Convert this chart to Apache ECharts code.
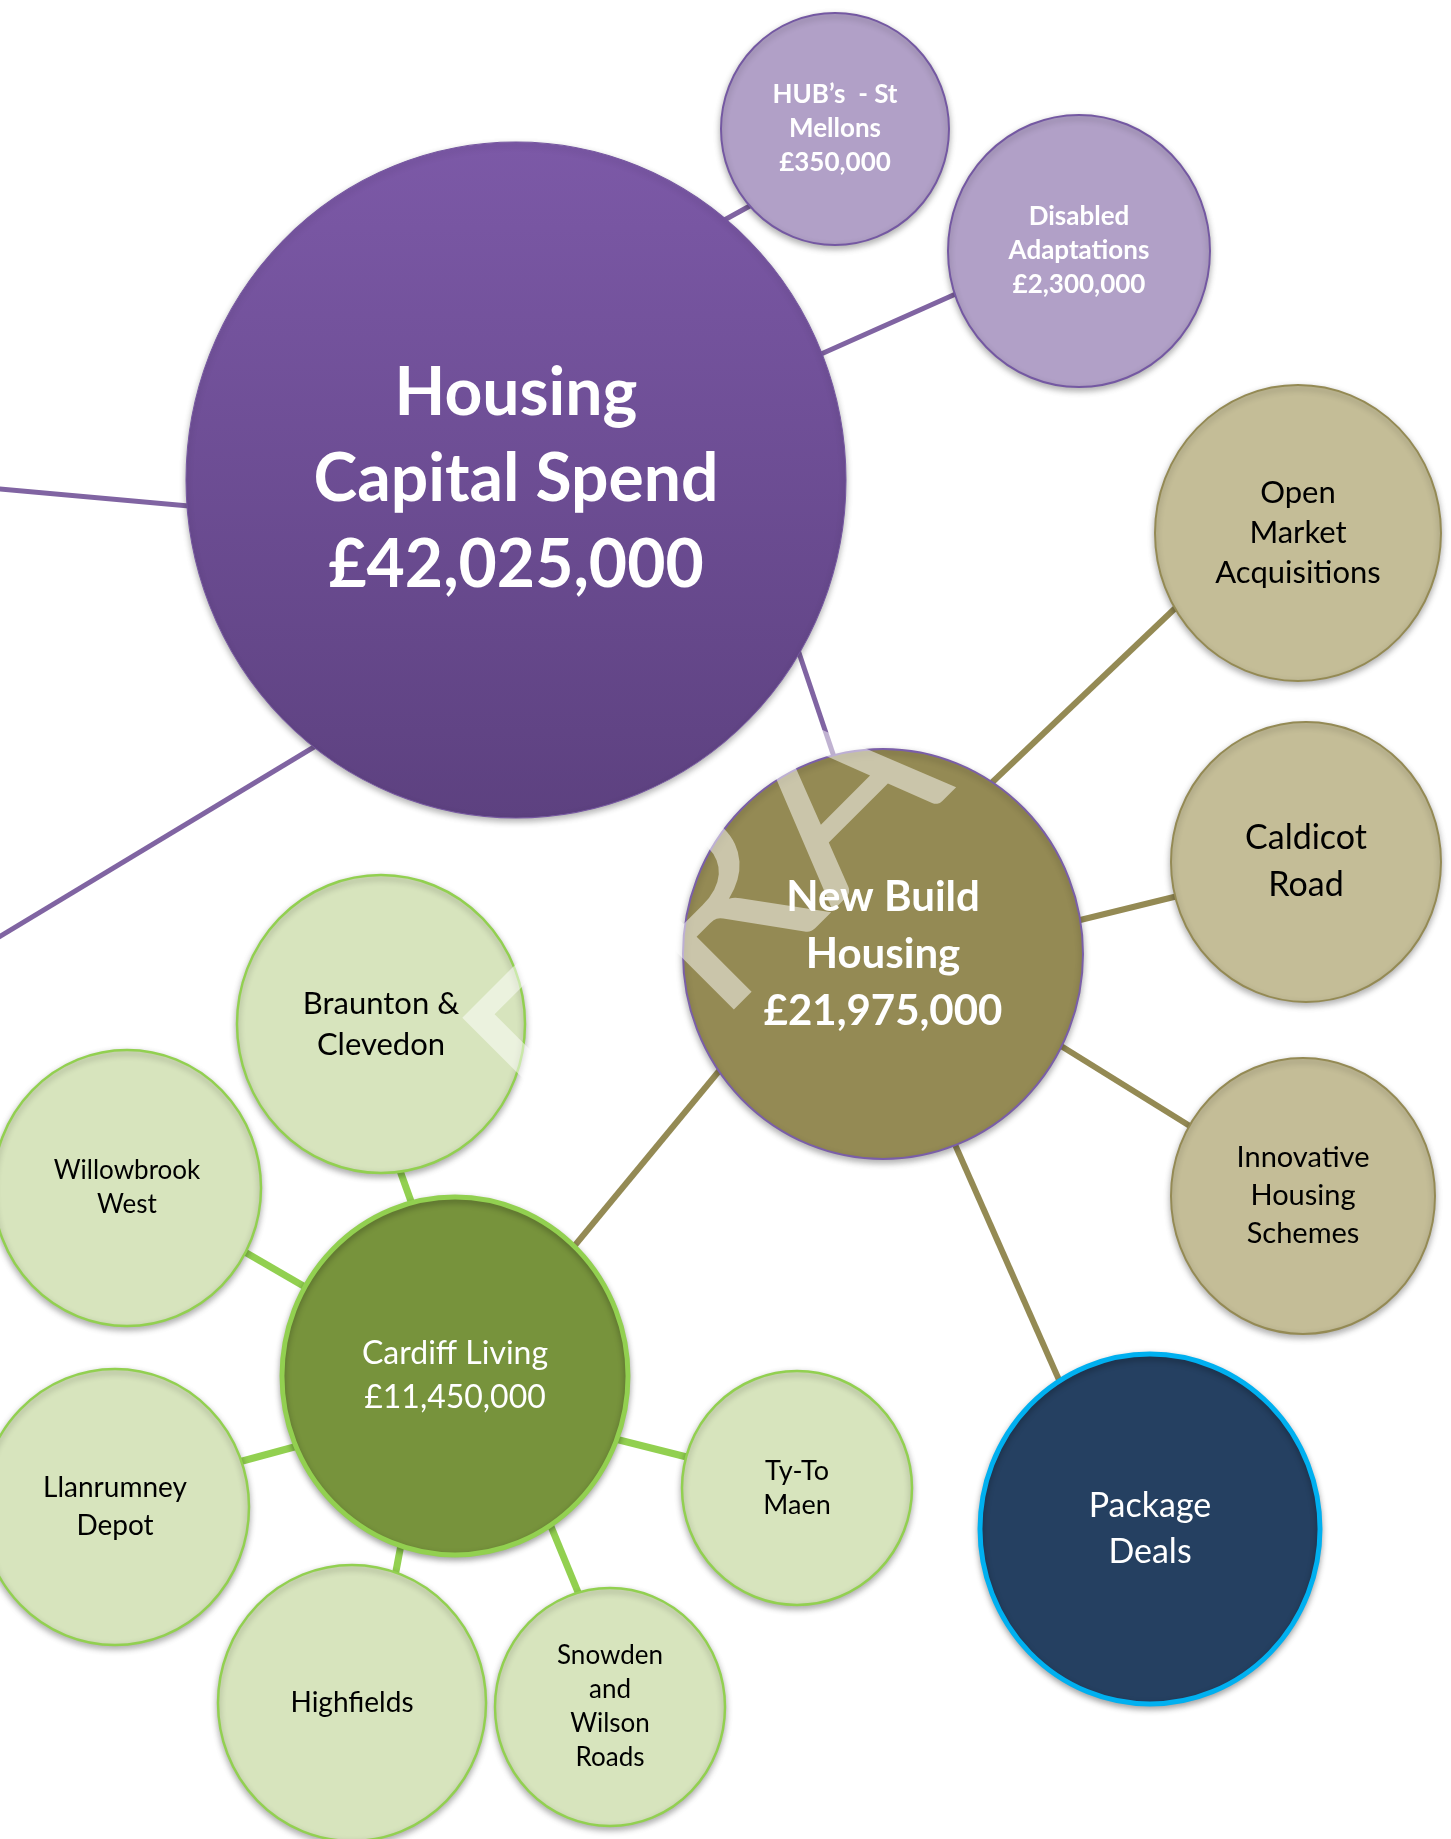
<!DOCTYPE html>
<html>
<head>
<meta charset="utf-8">
<title>Housing Capital Spend</title>
<script src="https://cdn.jsdelivr.net/npm/echarts@6/dist/echarts.min.js"></script>
<style>
  html, body { margin: 0; padding: 0; background: #fff; }
  #main { width: 1451px; height: 1839px; }
</style>
</head>
<body>
<div id="main"></div>
<script>
/*
 * Housing capital spend - bubble diagram
 */

// ---- data ----
var nodeNames = [
    'Housing Capital Spend', 'HUB’s  - St Mellons', 'Disabled Adaptations',
    'New Build Housing', 'Open Market Acquisitions', 'Caldicot Road',
    'Innovative Housing Schemes', 'Package Deals', 'Cardiff Living',
    'Braunton & Clevedon', 'Willowbrook West', 'Llanrumney Depot',
    'Highfields', 'Snowden and Wilson Roads', 'Ty-To Maen'
];
var nodeAmounts = [
    42025000, 350000, 2300000,
    21975000, null, null,
    null, null, 11450000,
    null, null, null,
    null, null, null
];
// how each name is broken over lines inside its bubble
var nodeLines = [
    ['Housing', 'Capital Spend'], ['HUB’s  - St', 'Mellons'], ['Disabled', 'Adaptations'],
    ['New Build', 'Housing'], ['Open', 'Market', 'Acquisitions'], ['Caldicot', 'Road'],
    ['Innovative', 'Housing', 'Schemes'], ['Package', 'Deals'], ['Cardiff Living'],
    ['Braunton &', 'Clevedon'], ['Willowbrook', 'West'], ['Llanrumney', 'Depot'],
    ['Highfields'], ['Snowden', 'and', 'Wilson', 'Roads'], ['Ty-To', 'Maen']
];
// parent -> child ('off page' = branch leaving the picture)
var links = [
    ['Housing Capital Spend', 'off page 1'],
    ['Housing Capital Spend', 'off page 2'],
    ['Housing Capital Spend', 'HUB’s  - St Mellons'],
    ['Housing Capital Spend', 'Disabled Adaptations'],
    ['Housing Capital Spend', 'New Build Housing'],
    ['New Build Housing', 'Open Market Acquisitions'],
    ['New Build Housing', 'Caldicot Road'],
    ['New Build Housing', 'Innovative Housing Schemes'],
    ['New Build Housing', 'Package Deals'],
    ['New Build Housing', 'Cardiff Living'],
    ['Cardiff Living', 'Braunton & Clevedon'],
    ['Cardiff Living', 'Willowbrook West'],
    ['Cardiff Living', 'Llanrumney Depot'],
    ['Cardiff Living', 'Highfields'],
    ['Cardiff Living', 'Snowden and Wilson Roads'],
    ['Cardiff Living', 'Ty-To Maen']
];

// ---- layout (page px, 1451 x 1839) ----
// x, y = centre, rx/ry = radii, g = style group, fs/lh = label font size / line height
var nodeLayout = {
    'Housing Capital Spend':      { x: 516,  y: 480,  rx: 330, ry: 338, g: 'root',   fs: 66, lh: 86 },
    'HUB’s  - St Mellons':        { x: 835,  y: 129,  rx: 114, ry: 116, g: 'lilac',  fs: 26, lh: 34 },
    'Disabled Adaptations':       { x: 1079, y: 251,  rx: 131, ry: 136, g: 'lilac',  fs: 26, lh: 34 },
    'New Build Housing':          { x: 883,  y: 954,  rx: 200, ry: 205, g: 'olive',  fs: 42, lh: 57 },
    'Open Market Acquisitions':   { x: 1298, y: 533,  rx: 143, ry: 148, g: 'tan',    fs: 31, lh: 40 },
    'Caldicot Road':              { x: 1306, y: 862,  rx: 135, ry: 140, g: 'tan',    fs: 34, lh: 47 },
    'Innovative Housing Schemes': { x: 1303, y: 1196, rx: 132, ry: 138, g: 'tan',    fs: 29, lh: 38 },
    'Package Deals':              { x: 1150, y: 1529, rx: 170, ry: 175, g: 'navy',   fs: 34, lh: 46 },
    'Cardiff Living':             { x: 455,  y: 1376, rx: 173, ry: 179, g: 'green',  fs: 32, lh: 44 },
    'Braunton & Clevedon':        { x: 381,  y: 1024, rx: 144, ry: 149, g: 'leaf',   fs: 31, lh: 41 },
    'Willowbrook West':           { x: 127,  y: 1188, rx: 134, ry: 138, g: 'leaf',   fs: 26, lh: 34 },
    'Llanrumney Depot':           { x: 115,  y: 1507, rx: 134, ry: 138, g: 'leaf',   fs: 28, lh: 38 },
    'Highfields':                 { x: 352,  y: 1703, rx: 134, ry: 138, g: 'leaf',   fs: 28, lh: 36 },
    'Snowden and Wilson Roads':   { x: 610,  y: 1707, rx: 115, ry: 119, g: 'leaf',   fs: 26, lh: 34 },
    'Ty-To Maen':                 { x: 797,  y: 1488, rx: 115, ry: 117, g: 'leaf',   fs: 27, lh: 34 }
};
// connector ends (hidden behind the bubbles), same order as links
var linkLayout = [
    [[400, 525], [-200, 471]],
    [[450, 665], [-200, 1057]],
    [[650, 261], [835, 159]],
    [[700, 408], [1079, 239]],
    [[760, 537], [899, 950]],
    [[900, 870], [1250, 537]],
    [[950, 952], [1300, 866]],
    [[950, 977], [1280, 1182]],
    [[900, 1020], [1120, 1518]],
    [[800, 973], [500, 1336]],
    [[450, 1310], [380, 1115]],
    [[400, 1342], [150, 1197]],
    [[420, 1413], [150, 1486]],
    [[419, 1450], [381, 1650]],
    [[499, 1400], [610, 1670]],
    [[500, 1410], [790, 1483]]
];

var groupStyle = {
    root:  { fill: new echarts.graphic.LinearGradient(0, 0, 0, 1, [
                 { offset: 0, color: '#7c59a7' }, { offset: 1, color: '#5d4180' }]),
             border: '#7556a0', bw: 1, text: '#ffffff', weight: 'bold', line: '#8064a2', lw: 5 },
    lilac: { fill: '#b1a0c7', border: '#7458a2', bw: 2, text: '#ffffff', weight: 'bold' },
    olive: { fill: '#948a54', border: '#7a5ea8', bw: 2, text: '#ffffff', weight: 'bold', line: '#948a54', lw: 6 },
    tan:   { fill: '#c4bd97', border: '#948a54', bw: 2, text: '#000000', weight: 'normal' },
    navy:  { fill: '#254061', border: '#00b0f0', bw: 5, text: '#ffffff', weight: 'normal' },
    green: { fill: '#77933c', border: '#92d050', bw: 5, text: '#ffffff', weight: 'normal', line: '#92d050', lw: 7 },
    leaf:  { fill: '#d7e4bd', border: '#92d050', bw: 2.5, text: '#000000', weight: 'normal' }
};

function money(v) {
    return '£' + v.toLocaleString('en-GB');
}

var bubbleData = nodeNames.map(function (name, i) {
    var p = nodeLayout[name];
    var s = groupStyle[p.g];
    var lines = nodeLines[i].slice();
    if (nodeAmounts[i] != null) {
        lines.push(money(nodeAmounts[i]));
    }
    return {
        name: name,
        value: [p.x, p.y, nodeAmounts[i]],
        symbolSize: [p.rx * 2, p.ry * 2],
        itemStyle: {
            color: s.fill,
            opacity: 1,
            borderColor: s.border,
            borderWidth: s.bw,
            shadowBlur: 6,
            shadowOffsetY: 3,
            shadowColor: 'rgba(0,0,0,0.3)'
        },
        label: {
            show: true,
            position: 'inside',
            formatter: lines.join('\n'),
            color: s.text,
            fontFamily: 'Lato',
            fontWeight: s.weight,
            fontSize: p.fs,
            lineHeight: p.lh
        }
    };
});

var linkData = links.map(function (l, i) {
    var s = groupStyle[nodeLayout[l[0]].g];
    return {
        name: l[0] + ' > ' + l[1],
        coords: linkLayout[i],
        lineStyle: { color: s.line, width: s.lw, opacity: 1 }
    };
});

var chart = echarts.init(document.getElementById('main'));

var option = {
    animation: false,
    backgroundColor: '#ffffff',
    grid: { left: 0, right: 0, top: 0, bottom: 0 },
    xAxis: { type: 'value', min: 0, max: 1451, show: false },
    yAxis: { type: 'value', min: 0, max: 1839, inverse: true, show: false },
    series: [
        {
            type: 'lines',
            coordinateSystem: 'cartesian2d',
            z: 1,
            silent: true,
            data: linkData
        },
        {
            type: 'scatter',
            symbol: 'circle',
            z: 2,
            clip: false,
            silent: true,
            data: bubbleData
        }
    ],
    graphic: [{
        // faint "DRAFT" watermark, only shows over the coloured bubbles
        type: 'text',
        z: 100,
        silent: true,
        x: 426,
        y: 1015,
        rotation: 45 * Math.PI / 180,
        style: {
            text: 'DRAFT',
            font: 'normal 260px Lato',
            fill: 'rgba(255,255,255,0.5)',
            textAlign: 'left',
            textVerticalAlign: 'top'
        }
    }]
};

chart.setOption(option);
</script>
</body>
</html>
